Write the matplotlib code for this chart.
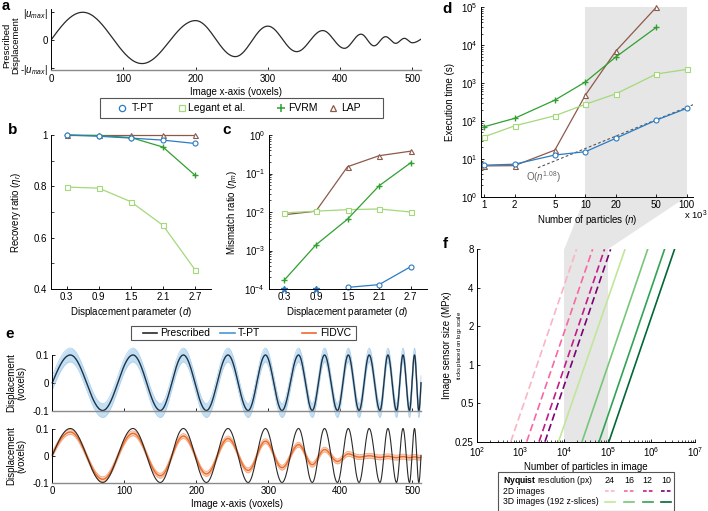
import numpy as np
import matplotlib
matplotlib.use('Agg')
import matplotlib.pyplot as plt
from matplotlib.patches import Polygon, Rectangle
from matplotlib.lines import Line2D
import matplotlib.ticker as mticker

plt.rcParams['font.family'] = ['Liberation Sans', 'DejaVu Sans']
plt.rcParams['font.size'] = 7
plt.rcParams['mathtext.fontset'] = 'custom'
plt.rcParams['mathtext.rm'] = 'Liberation Sans'
plt.rcParams['mathtext.it'] = 'Liberation Sans:italic'
plt.rcParams['mathtext.bf'] = 'Liberation Sans:bold'
plt.rcParams['xtick.direction'] = 'in'
plt.rcParams['ytick.direction'] = 'in'
plt.rcParams['xtick.major.size'] = 2.5
plt.rcParams['ytick.major.size'] = 2.5
plt.rcParams['xtick.minor.size'] = 1.5
plt.rcParams['ytick.minor.size'] = 1.5
plt.rcParams['axes.linewidth'] = 0.7
plt.rcParams['xtick.major.width'] = 0.6
plt.rcParams['ytick.major.width'] = 0.6
plt.rcParams['xtick.minor.width'] = 0.5
plt.rcParams['ytick.minor.width'] = 0.5
plt.rcParams['xtick.major.pad'] = 2.5
plt.rcParams['ytick.major.pad'] = 2.5

# ---------------- data ----------------
# a: prescribed displacement, extrema (x in voxels, u / |u_max|)
a_x = [0, 44, 126, 200, 255, 300, 340, 376, 406, 429, 447, 463, 477, 489, 500, 512]
a_u = [0, 1.0, -0.85, 0.70, -0.60, 0.50, -0.42, 0.34, -0.30, 0.21, -0.21, 0.12, -0.12, 0.06, -0.10, 0.03]

# b, c: displacement parameter
d_param = [0.3, 0.9, 1.5, 2.1, 2.7]
rec_tpt = [1.0, 0.995, 0.988, 0.980, 0.967]
rec_legant = [0.797, 0.793, 0.740, 0.648, 0.475]
rec_fvrm = [1.0, 0.998, 0.990, 0.953, 0.843]
rec_lap = [1.0, 1.0, 1.0, 1.0, 1.0]

mis_tpt = [0, 0, 1.1e-4, 1.3e-4, 3.8e-4]          # 0 = no mismatch (drawn on axis)
mis_legant = [0.0095, 0.0105, 0.0115, 0.012, 0.0100]
mis_fvrm = [1.7e-4, 1.4e-3, 6.5e-3, 0.048, 0.19]
mis_lap = [0.0085, 0.0105, 0.15, 0.29, 0.38]

# d: execution time vs number of particles (x10^3)
n_part = [1, 2, 5, 10, 20, 50, 100]
t_tpt = [6.8, 7.2, 12.6, 15.4, 35, 105, 215]
t_legant = [38, 74, 137, 275, 520, 1730, 2300]
t_fvrm = [70, 117, 355, 1070, 4900, 29500]
t_lap = [6.5, 6.6, 17, 480, 7000, 100000]
fit_n = [3.4, 140]
fit_t = [5.8, 330]

# e: sinusoid with increasing frequency, extrema
e_x = [0, 25, 70, 112, 150, 182, 214, 244, 272, 296, 319, 342, 361, 378, 396, 411,
       426, 440, 455, 466, 478, 487, 496, 503, 509, 512]
e_pres = [0, 0.1, -0.1, 0.1, -0.1, 0.1, -0.1, 0.1, -0.1, 0.1, -0.1, 0.1, -0.1, 0.1,
          -0.1, 0.1, -0.1, 0.1, -0.1, 0.1, -0.1, 0.1, -0.1, 0.1, -0.1, 0.0]
e_tpt = [0, 0.1, -0.1, 0.1, -0.1, 0.1, -0.1, 0.1, -0.1, 0.1, -0.1, 0.1, -0.1, 0.1,
         -0.1, 0.1, -0.1, 0.1, -0.1, 0.1, -0.1, 0.1, -0.1, 0.1, -0.1, 0.0]
e_tpt_sd = 0.025
e_fidvc = [0.005, 0.087, -0.088, 0.082, -0.075, 0.072, -0.068, 0.063, -0.055, 0.053,
           -0.045, 0.040, -0.034, 0.022, -0.022, 0.006, -0.006, -0.001, -0.007, -0.003,
           -0.008, -0.004, -0.008, -0.005, -0.008, -0.007]
e_fidvc_sd = 0.009

# f: lines (number of particles at 0.25 MPx and at 8 MPx)
f_res = ['24', '16', '12', '10']
f2d_lo = [595, 1380, 2650, 3620]
f2d_hi = [19200, 44800, 84000, 116000]
f3d_lo = [7400, 25600, 63000, 106000]
f3d_hi = [248000, 822000, 2.0e6, 3.39e6]
f_size = [0.25, 8]

# ---------------- styles ----------------
C_TPT = '#2b7cc4'
C_LEG = '#a3d97a'
C_FVRM = '#30a030'
C_LAP = '#8c5a4a'
C2D = ['#fbb4c4', '#f768a1', '#c51b8a', '#7a0177']
C3D = ['#c2e699', '#78c679', '#31a354', '#006837']
GREY = '#e6e6e6'
W, H = 708, 511


def fx(p):
    return p / W


def fy(p):
    return 1 - p / H


def wave(xs, ys, n=40):
    X, Y = [], []
    m = len(xs) - 1
    for i in range(m):
        t = np.linspace(0, 1, n)
        if i == 0:
            s = np.sin(np.pi / 2 * t)
        elif i == m - 1:
            s = 1 - np.cos(np.pi / 2 * t)
        else:
            s = (1 - np.cos(np.pi * t)) / 2
        X.append(xs[i] + (xs[i + 1] - xs[i]) * t)
        Y.append(ys[i] + (ys[i + 1] - ys[i]) * s)
    return np.concatenate(X), np.concatenate(Y)


def clean(ax, grey_bottom=False):
    ax.spines['top'].set_visible(False)
    ax.spines['right'].set_visible(False)
    ax.patch.set_facecolor('none')
    if grey_bottom:
        ax.spines['bottom'].set_color('#8a8a8a')
        ax.spines['bottom'].set_linewidth(1.0)


fig = plt.figure(figsize=(W / 100, H / 100), dpi=100)

# ---------------- a ----------------
ax_a = fig.add_axes([fx(51), fy(70.5), 370 / W, 61 / H])
xa, ya = wave(a_x, a_u)
ax_a.plot(xa, ya, color='#2a2a2a', lw=0.9)
ax_a.set_xlim(0, 512)
ax_a.set_ylim(-1.1, 1.1)
ax_a.set_yticks([-1, 0, 1])
ax_a.set_yticklabels([r'-|$u_{max}$|', '0', r'|$u_{max}$|'])
ax_a.set_xticks([0, 100, 200, 300, 400, 500])
clean(ax_a, grey_bottom=True)
ax_a.set_xlabel('Image x-axis (voxels)', labelpad=2)
ax_a.set_ylabel('Prescribed\nDisplacement', linespacing=1.0, fontsize=6.8)
ax_a.yaxis.set_label_coords(-0.083, 0.42)

# ---------------- b ----------------
ax_b = fig.add_axes([fx(50.7), fy(289), 160.4 / W, 154 / H])
mk = dict(ms=3.6, mew=0.8, mfc='white', lw=0.9, clip_on=False)
ax_b.plot(d_param, rec_legant, color=C_LEG, marker='s', **mk)
ax_b.plot(d_param, rec_lap, color=C_LAP, marker='^', **mk)
ax_b.plot(d_param, rec_fvrm, color=C_FVRM, marker='+', ms=5, mew=1.0, lw=0.9, clip_on=False)
ax_b.plot(d_param, rec_tpt, color=C_TPT, marker='o', **mk)
ax_b.set_xlim(0, 3)
ax_b.set_ylim(0.4, 1.0)
ax_b.set_xticks(d_param)
ax_b.set_xticklabels(['0.3', '0.9', '1.5', '2.1', '2.7'])
ax_b.set_yticks([0.4, 0.6, 0.8, 1.0])
ax_b.set_yticklabels(['0.4', '0.6', '0.8', '1'])
ax_b.set_yticks([0.5, 0.7, 0.9], minor=True)
ax_b.tick_params(axis='y', which='minor', length=2.5)
clean(ax_b)
ax_b.set_xlabel(r'Displacement parameter ($d$)', labelpad=2)
ax_b.set_ylabel(r'Recovery ratio ($\eta_r$)')
ax_b.yaxis.set_label_coords(-0.17, 0.5)

# ---------------- c ----------------
ax_c = fig.add_axes([fx(268.5), fy(289), 158 / W, 154 / H])
ax_c.set_yscale('log')
ax_c.plot(d_param, mis_lap, color=C_LAP, marker='^', markevery=[2, 3, 4], **mk)
ax_c.plot(d_param, mis_legant, color=C_LEG, marker='s', **mk)
ax_c.plot(d_param, mis_fvrm, color=C_FVRM, marker='+', ms=5, mew=1.0, lw=0.9, clip_on=False)
tp_x = [d for d, v in zip(d_param, mis_tpt) if v > 0]
tp_y = [v for v in mis_tpt if v > 0]
z_x = [d for d, v in zip(d_param, mis_tpt) if v == 0]
ax_c.plot(tp_x, tp_y, color=C_TPT, marker='o', **mk)
ax_c.plot(z_x, [1e-4] * len(z_x), ls='none', color=C_TPT, marker='*', ms=4.5, clip_on=False)
ax_c.set_xlim(0, 3)
ax_c.set_ylim(1e-4, 1)
ax_c.set_xticks(d_param)
ax_c.set_xticklabels(['0.3', '0.9', '1.5', '2.1', '2.7'])
ax_c.yaxis.set_major_locator(mticker.LogLocator(base=10, numticks=10))
ax_c.yaxis.set_minor_locator(mticker.LogLocator(base=10, subs=np.arange(2, 10), numticks=10))
ax_c.yaxis.set_minor_formatter(mticker.NullFormatter())
clean(ax_c)
ax_c.set_xlabel(r'Displacement parameter ($d$)', labelpad=2)
ax_c.set_ylabel(r'Mismatch ratio ($\eta_m$)')
ax_c.yaxis.set_label_coords(-0.185, 0.5)

# legend b/c
fig.add_artist(Rectangle((fx(100), fy(118.3)), (383.3 - 100) / W, 20.3 / H,
                         transform=fig.transFigure, fc='white', ec='#555555', lw=0.8))
leg_items = [('T-PT', C_TPT, 'o', 122, 131.7), ('Legant et al.', C_LEG, 's', 181.7, 188.5),
             ('FVRM', C_FVRM, '+', 281, 288), ('LAP', C_LAP, '^', 333, 341.5)]
for lab, col, m, mx, tx in leg_items:
    if m == '+':
        fig.add_artist(Line2D([fx(mx)], [fy(108.3)], marker=m, color=col, ms=5.5, mew=1.1,
                              transform=fig.transFigure))
    else:
        fig.add_artist(Line2D([fx(mx)], [fy(108.3)], marker=m, color=col, ms=4.5, mew=0.9,
                              mfc='white', transform=fig.transFigure))
    fig.text(fx(tx), fy(108.3), lab, va='center', ha='left', fontsize=7.5)

# ---------------- d ----------------
ax_d = fig.add_axes([fx(480.7), fy(196.7), 212.6 / W, 189.4 / H])
ax_d.set_xscale('log')
ax_d.set_yscale('log')
ax_d.axvspan(10, 100, color=GREY, lw=0, zorder=0)
ax_d.plot(fit_n, fit_t, color='#555555', lw=0.8, ls=(0, (2.5, 2)), zorder=1)
ax_d.plot(n_part[:len(t_lap)], t_lap, color=C_LAP, marker='^', **mk)
ax_d.plot(n_part, t_legant, color=C_LEG, marker='s', **mk)
ax_d.plot(n_part[:len(t_fvrm)], t_fvrm, color=C_FVRM, marker='+', ms=5, mew=1.0, lw=0.9,
          clip_on=False)
ax_d.plot(n_part, t_tpt, color=C_TPT, marker='o', **mk)
ax_d.set_xlim(0.928, 116)
ax_d.set_ylim(1, 1e5)
ax_d.set_xticks(n_part)
ax_d.set_xticklabels([str(v) for v in n_part])
ax_d.xaxis.set_minor_locator(mticker.NullLocator())
ax_d.yaxis.set_major_locator(mticker.LogLocator(base=10, numticks=10))
ax_d.yaxis.set_minor_locator(mticker.LogLocator(base=10, subs=np.arange(2, 10), numticks=10))
ax_d.yaxis.set_minor_formatter(mticker.NullFormatter())
clean(ax_d)
ax_d.set_xlabel(r'Number of particles ($n$)', labelpad=2)
ax_d.set_ylabel('Execution time (s)')
ax_d.yaxis.set_label_coords(-0.12, 0.5)
ax_d.text(2.6, 3.37, r'O($n^{1.08}$)', color='#666666', fontsize=7, ha='left', va='center')
fig.text(fx(707), fy(215.5), r'x 10$^3$', fontsize=6.8, ha='right', va='center')

# ---------------- e ----------------
xe, ye = wave(e_x, e_pres)
xt, yt = wave(e_x, e_tpt)
xf, yf = wave(e_x, e_fidvc)

ax_e1 = fig.add_axes([fx(52.3), fy(410.5), 368.7 / W, 55.5 / H])
ax_e1.fill_between(xt, yt - e_tpt_sd, yt + e_tpt_sd, color='#c4def2', lw=0, clip_on=False)
ax_e1.plot(xt, yt - e_tpt_sd, color='#a9cfee', lw=0.5, clip_on=False)
ax_e1.plot(xt, yt + e_tpt_sd, color='#a9cfee', lw=0.5, clip_on=False)
ax_e1.plot(xt, yt, color='#5aa2dc', lw=1.1, clip_on=False)
ax_e1.plot(xe, ye, color='#2a2a2a', lw=0.8, clip_on=False)
ax_e1.set_xlim(0, 512)
ax_e1.set_ylim(-0.1, 0.1)
ax_e1.set_yticks([-0.1, 0, 0.1])
ax_e1.set_yticklabels(['-0.1', '0', '0.1'])
ax_e1.set_xticks([0, 100, 200, 300, 400, 500])
ax_e1.set_xticklabels([])
clean(ax_e1, grey_bottom=True)
ax_e1.set_ylabel('Displacement\n(voxels)', linespacing=1.0)
ax_e1.yaxis.set_label_coords(-0.07, 0.5)

ax_e2 = fig.add_axes([fx(52.3), fy(482.5), 368.7 / W, 54 / H])
ax_e2.fill_between(xf, yf - e_fidvc_sd, yf + e_fidvc_sd, color='#fcd3ba', lw=0, clip_on=False)
ax_e2.plot(xf, yf - e_fidvc_sd, color='#f6a477', lw=0.6, clip_on=False)
ax_e2.plot(xf, yf + e_fidvc_sd, color='#f6a477', lw=0.6, clip_on=False)
ax_e2.plot(xf, yf, color='#ec6a2c', lw=1.0, clip_on=False)
ax_e2.plot(xe, ye, color='#2a2a2a', lw=0.8, clip_on=False)
ax_e2.set_xlim(0, 512)
ax_e2.set_ylim(-0.1, 0.1)
ax_e2.set_yticks([-0.1, 0, 0.1])
ax_e2.set_yticklabels(['-0.1', '0', '0.1'])
ax_e2.set_xticks([0, 100, 200, 300, 400, 500])
clean(ax_e2, grey_bottom=True)
ax_e2.set_xlabel('Image x-axis (voxels)', labelpad=2)
ax_e2.set_ylabel('Displacement\n(voxels)', linespacing=1.0)
ax_e2.yaxis.set_label_coords(-0.07, 0.5)

# legend e
fig.add_artist(Rectangle((fx(131), fy(340)), (355.7 - 131) / W, 14 / H,
                         transform=fig.transFigure, fc='white', ec='#555555', lw=0.8))
for lab, col, x0, x1, tx in [('Prescribed', '#2a2a2a', 143, 157, 160),
                             ('T-PT', '#4a96d6', 220, 235, 237.5),
                             ('FIDVC', '#ec6a2c', 302, 316, 320)]:
    fig.add_artist(Line2D([fx(x0), fx(x1)], [fy(333), fy(333)], color=col, lw=1.2,
                          transform=fig.transFigure))
    fig.text(fx(tx), fy(333), lab, va='center', ha='left', fontsize=7.5)

# ---------------- f ----------------
ax_f = fig.add_axes([fx(477), fy(441.7), 218 / W, 192.4 / H])
ax_f.set_xscale('log')
ax_f.set_yscale('log', base=2)
ax_f.axvspan(1e4, 1e5, color=GREY, lw=0, zorder=0)
for i in range(4):
    ax_f.plot([f2d_lo[i], f2d_hi[i]], f_size, color=C2D[i], lw=1.2, dashes=(4.5, 2.2))
for i in range(4):
    ax_f.plot([f3d_lo[i], f3d_hi[i]], f_size, color=C3D[i], lw=1.2)
ax_f.set_xlim(1e2, 1e7)
ax_f.set_ylim(0.25, 8)
ax_f.set_yticks([0.25, 0.5, 1, 2, 4, 8])
ax_f.set_yticklabels(['0.25', '0.5', '1', '2', '4', '8'])
ax_f.yaxis.set_minor_locator(mticker.NullLocator())
ax_f.xaxis.set_major_locator(mticker.LogLocator(base=10, numticks=10))
ax_f.xaxis.set_minor_locator(mticker.LogLocator(base=10, subs=np.arange(2, 10), numticks=10))
ax_f.xaxis.set_minor_formatter(mticker.NullFormatter())
clean(ax_f)
ax_f.set_xlabel('Number of particles in image', labelpad=2)
ax_f.set_ylabel('Image sensor size (MPx)')
ax_f.yaxis.set_label_coords(-0.115, 0.5)
fig.text(fx(459), fy(345.5), r'ticks placed on log$_2$ scale', rotation=90, fontsize=4.3,
         ha='center', va='center')

# legend table f
fig.add_artist(Rectangle((fx(498.3), fy(510.7)), (674 - 498.3) / W, 39 / H,
                         transform=fig.transFigure, fc='white', ec='#555555', lw=0.8))
fig.text(fx(502.7), fy(480.7), r'$\bf{Nyquist}$ resolution (px)', va='center', ha='left',
         fontsize=6.2)
cols = [609.5, 629, 647.5, 666]
for c, lab in zip(cols, f_res):
    fig.text(fx(c), fy(480.7), lab, ha='center', va='center', fontsize=6.4)
fig.text(fx(502.7), fy(491), '2D images', va='center', ha='left', fontsize=6.2)
fig.text(fx(502.7), fy(502), '3D images (192 z-slices)', va='center', ha='left', fontsize=6.2)
for i, c in enumerate(cols):
    fig.add_artist(Line2D([fx(c - 5), fx(c + 5)], [fy(491), fy(491)], color=C2D[i], lw=1.2,
                          dashes=(2.2, 1.3), transform=fig.transFigure))
    fig.add_artist(Line2D([fx(c - 5), fx(c + 5)], [fy(502), fy(502)], color=C3D[i], lw=1.2,
                          transform=fig.transFigure))

# connecting shade between d and f
inv = fig.transFigure.inverted()
p1 = inv.transform(ax_d.transData.transform((10, 1)))
p2 = inv.transform(ax_d.transData.transform((100, 1)))
p3 = inv.transform(ax_f.transData.transform((1e5, 8)))
p4 = inv.transform(ax_f.transData.transform((1e4, 8)))
fig.add_artist(Polygon([p1, p2, p3, p4], closed=True, transform=fig.transFigure,
                       fc=GREY, ec='none', zorder=-1))

# panel letters
for lab, x, y, fs in [('a', 5.5, 6.5, 10.5), ('b', 12.5, 130, 11), ('c', 226.5, 130, 11),
                      ('d', 447, 9, 11), ('e', 10, 334, 11), ('f', 445, 244, 11)]:
    fig.text(fx(x), fy(y), lab, fontsize=fs, fontweight='bold', ha='center', va='center')

fig.savefig('out.png', dpi=100)
